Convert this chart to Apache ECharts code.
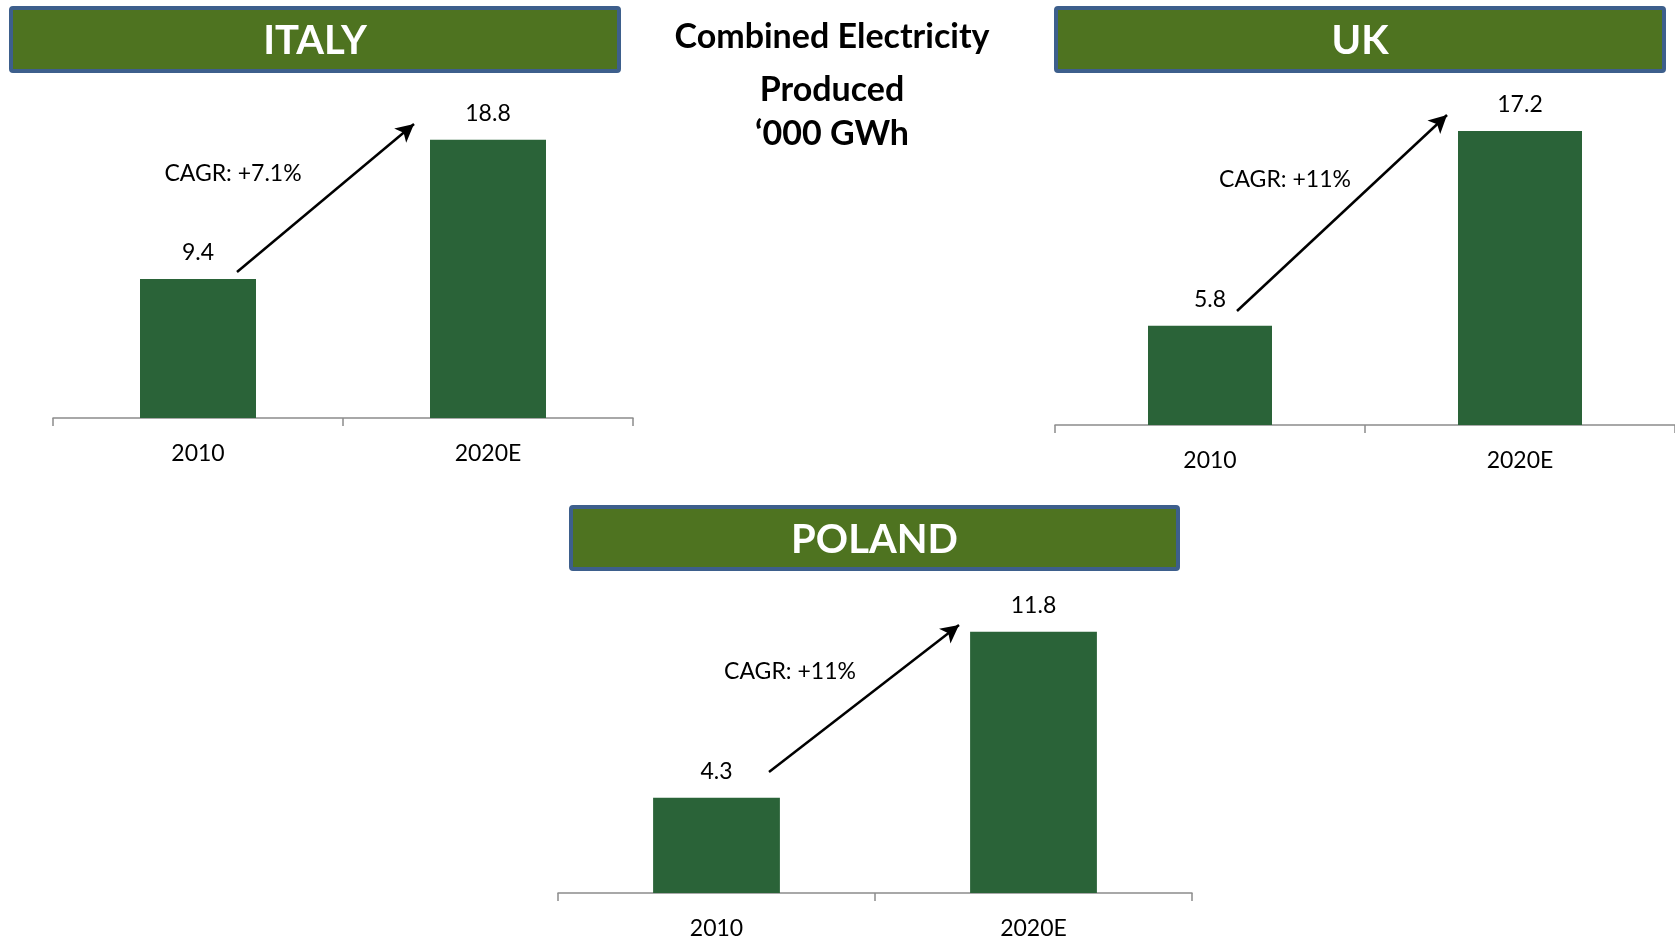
<!DOCTYPE html>
<html>
<head>
<meta charset="utf-8">
<title>Combined Electricity Produced</title>
<script src="https://cdn.jsdelivr.net/npm/echarts@6/dist/echarts.min.js"></script>
<style>
  html, body { margin: 0; padding: 0; background: #ffffff; }
  #chart { width: 1675px; height: 940px; }
</style>
</head>
<body>
<div id="chart"></div>
<script>
// Chart data
const categories = ['2010', '2020E'];
const italyValues = [9.4, 18.8];
const ukValues = [5.8, 17.2];
const polandValues = [4.3, 11.8];
const countryNames = ['ITALY', 'UK', 'POLAND'];
const cagrLabels = ['CAGR: +7.1%', 'CAGR: +11%', 'CAGR: +11%'];
const titleLines = ['Combined Electricity', 'Produced', '\u2018000 GWh'];

const FONT = 'Lato, "Open Sans", sans-serif';
const BAR_COLOR = '#2a6338';
const HEADER_FILL = '#4e7320';
const HEADER_BORDER = '#3d5f8c';
const AXIS_COLOR = '#8c8c8c';

// Panel layout: grid box, y range, header box, CAGR text and arrow
const panels = [
  { values: italyValues, grid: { left: 53, width: 580, top: 122, height: 296 }, yMax: 20,
    header: { x: 11, y: 8, w: 608, h: 63 },
    cagr: { x: 233, y: 174 }, arrow: [[237, 272], [414, 124]] },
  { values: ukValues, grid: { left: 1055, width: 622, top: 83, height: 342 }, yMax: 20,
    header: { x: 1056, y: 8, w: 608, h: 63 },
    cagr: { x: 1285, y: 180 }, arrow: [[1237, 311], [1447, 115]] },
  { values: polandValues, grid: { left: 558, width: 634, top: 583, height: 311 }, yMax: 14,
    header: { x: 571, y: 507, w: 607, h: 62 },
    cagr: { x: 790, y: 672 }, arrow: [[769, 772], [959, 625]] }
];

const chart = echarts.init(document.getElementById('chart'), null, { renderer: 'canvas' });

const grids = [], xAxes = [], yAxes = [], series = [], graphics = [];

panels.forEach((p, i) => {
  grids.push(Object.assign({ containLabel: false }, p.grid));
  xAxes.push({
    type: 'category', gridIndex: i, data: categories,
    axisLine: { show: true, lineStyle: { color: AXIS_COLOR, width: 1.5 } },
    axisTick: { show: true, length: 8, lineStyle: { color: AXIS_COLOR, width: 1.5 } },
    axisLabel: { color: '#000', fontFamily: FONT, fontSize: 23, margin: 24 },
    splitLine: { show: false }
  });
  yAxes.push({
    type: 'value', gridIndex: i, min: 0, max: p.yMax,
    show: false, splitLine: { show: false }
  });
  series.push({
    type: 'bar', xAxisIndex: i, yAxisIndex: i, data: p.values,
    barWidth: '40%',
    itemStyle: { color: BAR_COLOR },
    label: {
      show: true, position: 'top', distance: 15,
      color: '#000', fontFamily: FONT, fontSize: 23,
      formatter: (d) => d.value.toFixed(1)
    },
    emphasis: { disabled: true },
    markLine: {
      silent: true,
      symbol: ['none', 'arrow'], symbolSize: [14, 18],
      label: { show: false },
      lineStyle: { color: '#000', width: 2.5, type: 'solid' },
      emphasis: { disabled: true },
      data: [[{ x: p.arrow[0][0], y: p.arrow[0][1] }, { x: p.arrow[1][0], y: p.arrow[1][1] }]]
    }
  });

  // Country header box
  graphics.push({
    type: 'rect',
    shape: { x: p.header.x, y: p.header.y, width: p.header.w, height: p.header.h, r: 2 },
    style: { fill: HEADER_FILL, stroke: HEADER_BORDER, lineWidth: 4 }
  });
  graphics.push({
    type: 'text',
    x: p.header.x + p.header.w / 2, y: p.header.y + p.header.h / 2 + 2,
    style: {
      text: countryNames[i], fill: '#ffffff', fontFamily: FONT, fontWeight: 'bold',
      fontSize: 40, textAlign: 'center', textVerticalAlign: 'middle'
    }
  });
  // CAGR annotation
  graphics.push({
    type: 'text', x: p.cagr.x, y: p.cagr.y,
    style: {
      text: cagrLabels[i], fill: '#000', fontFamily: FONT, fontSize: 23,
      textAlign: 'center', textVerticalAlign: 'middle'
    }
  });
});

// Centre title
const titleY = [37, 90, 134];
titleLines.forEach((t, k) => {
  graphics.push({
    type: 'text', x: 832, y: titleY[k],
    style: {
      text: t, fill: '#000', fontFamily: FONT, fontWeight: 'bold', fontSize: 34,
      textAlign: 'center', textVerticalAlign: 'middle'
    }
  });
});

chart.setOption({
  animation: false,
  backgroundColor: '#ffffff',
  grid: grids,
  xAxis: xAxes,
  yAxis: yAxes,
  series: series,
  graphic: graphics
});
</script>
</body>
</html>
